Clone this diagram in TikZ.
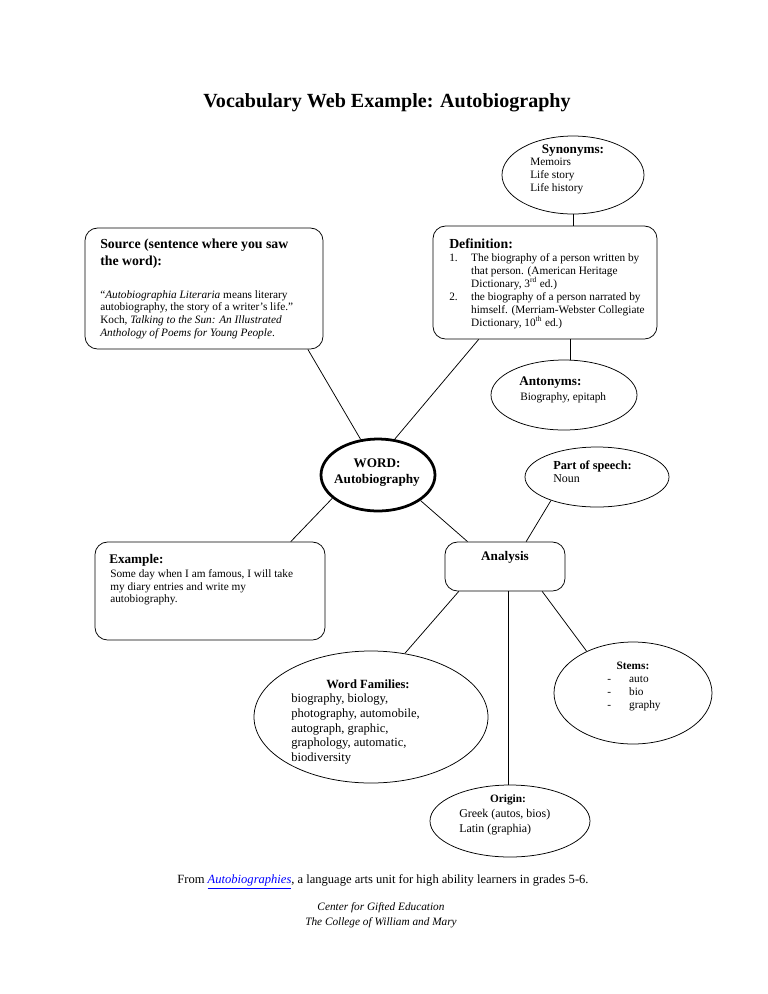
\documentclass[tikz,border=0pt]{standalone}
\usepackage{fontspec}
\setmainfont{Liberation Serif}
\usetikzlibrary{shapes.geometric,calc}
\newcommand\pxl{0.797pt}
\tikzset{
  box/.style={draw, rounded corners=10pt, inner sep=0pt, line width=0.6pt},
  bubble/.style={draw, ellipse, inner sep=0pt, line width=0.6pt},
  txt/.style={inner sep=0pt, align=left},
  headbig/.style={txt, font=\bfseries\fontsize{11}{13.5}\selectfont},
  headmid/.style={txt, font=\bfseries\fontsize{10.5}{12.8}\selectfont},
  headsmall/.style={txt, font=\bfseries\fontsize{9}{11}\selectfont},
  body/.style={txt, font=\fontsize{9}{10.2}\selectfont},
}
\begin{document}
\begin{tikzpicture}[x=0.797pt,y=-0.797pt]
  \useasboundingbox[fill=white] (0,0) rectangle (768,994);
  \node[txt, font=\bfseries\fontsize{16}{19}\selectfont] (title) at (387,103)
    {Vocabulary Web Example: Autobiography};
  % shapes
  \node[box, minimum width=238*\pxl, minimum height=121*\pxl] (src) at (204,288.5) {};
  \node[box, minimum width=224*\pxl, minimum height=113*\pxl] (def) at (545,282.5) {};
  \node[bubble, minimum width=142*\pxl, minimum height=78*\pxl] (syn) at (573,175) {};
  \node[bubble, minimum width=146*\pxl, minimum height=70*\pxl] (ant) at (564,395) {};
  \node[bubble, line width=2.2pt, minimum width=114*\pxl, minimum height=72*\pxl] (word) at (378,475) {};
  \node[bubble, minimum width=144*\pxl, minimum height=60*\pxl] (pos) at (597,477) {};
  \node[box, minimum width=120*\pxl, minimum height=49*\pxl] (ana) at (505,566.5) {};
  \node[box, minimum width=230*\pxl, minimum height=98*\pxl] (exa) at (210,591) {};
  \node[bubble, minimum width=234*\pxl, minimum height=132*\pxl] (fam) at (371,717) {};
  \node[bubble, minimum width=158*\pxl, minimum height=102*\pxl] (stem) at (633,693) {};
  \node[bubble, minimum width=160*\pxl, minimum height=72*\pxl] (orig) at (510,821) {};
  % texts
  \node[headbig, anchor=north west] (srchead) at (100,239)
    {Source (sentence where you saw\\the word):};
  \node[body, anchor=north west] (srcbody) at (100,290)
    {“\textit{Autobiographia Literaria} means literary\\
     autobiography, the story of a writer’s life.”\\
     Koch, \textit{Talking to the Sun: An Illustrated}\\
     \textit{Anthology of Poems for Young People}.};
  \node[headbig, anchor=north west] (defhead) at (449,239) {Definition:};
  \node[txt, font=\fontsize{9}{10.45}\selectfont, anchor=north west] (defbody) at (449,253)
    {\makebox[17.5pt][l]{1.}The biography of a person written by\\
     \hspace*{17.5pt}that person. (American Heritage\\
     \hspace*{17.5pt}Dictionary, 3\textsuperscript{rd} ed.)\\
     \makebox[17.5pt][l]{2.}the biography of a person narrated by\\
     \hspace*{17.5pt}himself. (Merriam-Webster Collegiate\\
     \hspace*{17.5pt}Dictionary, 10\textsuperscript{th} ed.)};
  \node[headmid] (synhead) at (573,151) {Synonyms:};
  \node[body, anchor=north west] (synbody) at (530,158)
    {Memoirs\\Life story\\Life history};
  \node[headmid, anchor=west] (anthead) at (519,383) {Antonyms:};
  \node[body, anchor=north west] (antbody) at (520,392) {Biography, epitaph};
  \node[headmid, align=center] (wordtxt) at (377,473) {WORD:\\Autobiography};
  \node[txt, font=\bfseries\fontsize{9.8}{12}\selectfont, anchor=west] (poshead) at (553,466) {Part of speech:};
  \node[txt, font=\fontsize{9.5}{11}\selectfont, anchor=north west] (posbody) at (553,474) {Noun};
  \node[headmid] (anatxt) at (505,557) {Analysis};
  \node[headmid, anchor=west] (exahead) at (109,560) {Example:};
  \node[body, anchor=north west] (exabody) at (110,569)
    {Some day when I am famous, I will take\\
     my diary entries and write my\\
     autobiography.};
  \node[txt, font=\bfseries\fontsize{10}{12}\selectfont] (famhead) at (368,684) {Word Families:};
  \node[txt, font=\fontsize{10}{11.6}\selectfont, anchor=north west] (fambody) at (291,694)
    {biography, biology,\\photography, automobile,\\autograph, graphic,\\graphology, automatic,\\biodiversity};
  \node[headsmall] (stemhead) at (633,666) {Stems:};
  \node[body, anchor=north west] (stembody) at (607,676)
    {\makebox[17.5pt][l]{-}auto\\\makebox[17.5pt][l]{-}bio\\\makebox[17.5pt][l]{-}graphy};
  \node[headsmall] (orighead) at (508,800) {Origin:};
  \node[txt, font=\fontsize{9.5}{12}\selectfont, anchor=north west] (origbody) at (459,809)
    {Greek (autos, bios)\\Latin (graphia)};
  \node[txt, font=\fontsize{10}{12}\selectfont] (from) at (383,882)
    {From \textcolor{blue}{\underline{\textit{Autobiographies}}}, a language arts unit for high ability learners in grades 5-6.};
  \node[txt, align=center, font=\itshape\fontsize{9}{12}\selectfont] (cfge) at (381,915)
    {Center for Gifted Education\\The College of William and Mary};
  % connectors
  \coordinate (defant) at ($(def.south west)!0.612!(def.south east)$);
  \coordinate (anaor) at ($(ana.south west)!0.525!(ana.south east)$);
  \begin{scope}[line width=0.6pt]
    \draw ($(src.south west)!0.935!(src.south east)$) -- (word.116);
    \draw ($(def.south west)!0.205!(def.south east)$) -- (word.65);
    \draw (syn.south) -- (syn.south |- def.north);
    \draw (defant) -- (defant |- ant.north);
    \draw (word.207) -- ($(exa.north west)!0.85!(exa.north east)$);
    \draw (word.-31) -- ($(ana.north west)!0.19!(ana.north east)$);
    \draw (pos.207) -- ($(ana.north west)!0.675!(ana.north east)$);
    \draw ($(ana.south west)!0.117!(ana.south east)$) -- (fam.62);
    \draw (anaor) -- (anaor |- orig.north);
    \draw ($(ana.south west)!0.808!(ana.south east)$) -- (stem.138);
  \end{scope}
\end{tikzpicture}
\end{document}
